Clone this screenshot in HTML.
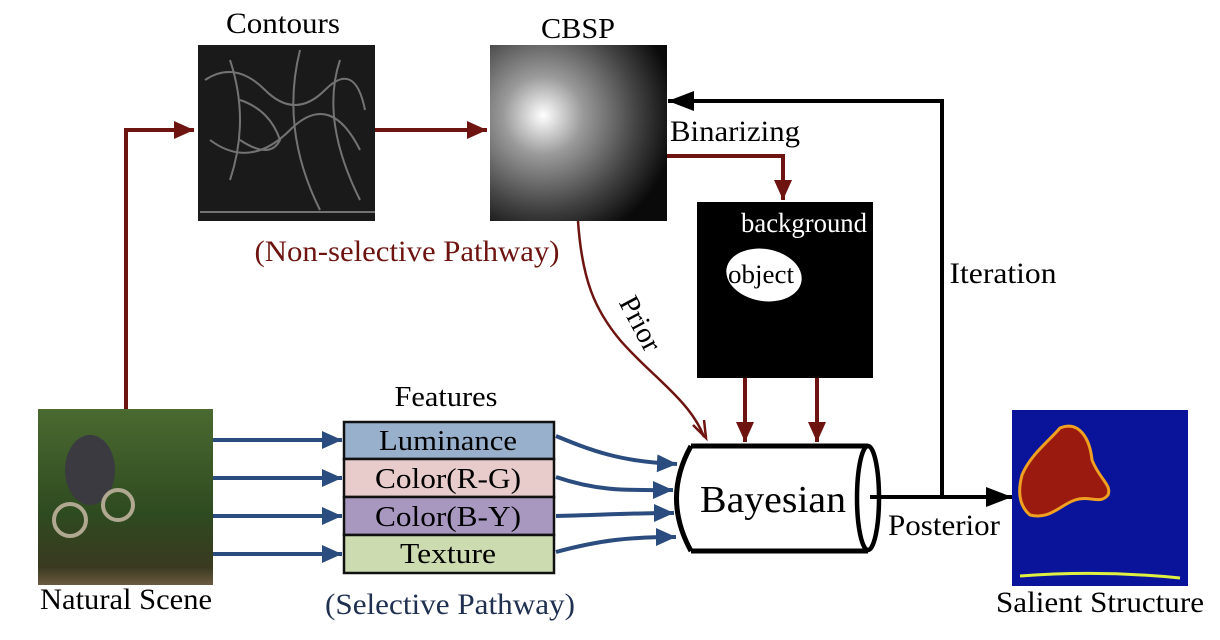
<!DOCTYPE html>
<html><head><meta charset="utf-8"><style>
html,body{margin:0;padding:0;background:#fff;}
svg{display:block;}
text{font-family:"Liberation Serif",serif;}
</style></head><body>
<svg width="1220" height="640" viewBox="0 0 1220 640" xmlns="http://www.w3.org/2000/svg">
<defs>
<marker id="arR" markerWidth="20" markerHeight="18" refX="20" refY="9" orient="auto" markerUnits="userSpaceOnUse"><path d="M0,0 L20,9 L0,18 z" fill="#6e1410"/></marker>
<marker id="arB" markerWidth="20" markerHeight="18" refX="20" refY="9" orient="auto" markerUnits="userSpaceOnUse"><path d="M0,0 L20,9 L0,18 z" fill="#2b4c7e"/></marker>
<marker id="arK" markerWidth="26" markerHeight="20" refX="26" refY="10" orient="auto" markerUnits="userSpaceOnUse"><path d="M0,0 L26,10 L0,20 z" fill="#000"/></marker>
<radialGradient id="cb" cx="0.3" cy="0.4" r="0.75"><stop offset="0" stop-color="#fff"/><stop offset="0.3" stop-color="#9a9a9a"/><stop offset="0.7" stop-color="#444"/><stop offset="1" stop-color="#0a0a0a"/></radialGradient>
<linearGradient id="ns" x1="0" y1="0" x2="0" y2="1"><stop offset="0" stop-color="#4a6a30"/><stop offset="0.6" stop-color="#2e4a20"/><stop offset="0.9" stop-color="#3a3a20"/><stop offset="1" stop-color="#6a5a40"/></linearGradient>
</defs>

<rect x="38" y="409" width="175" height="176" fill="url(#ns)"/>
<ellipse cx="90" cy="470" rx="25" ry="35" fill="#3a3a40"/>
<circle cx="70" cy="520" r="16" fill="none" stroke="#b0a890" stroke-width="4"/>
<circle cx="118" cy="505" r="15" fill="none" stroke="#b0a890" stroke-width="4"/>
<text x="126" y="609" font-size="30" text-anchor="middle" textLength="172" lengthAdjust="spacingAndGlyphs">Natural Scene</text>

<rect x="198" y="45" width="177" height="176" fill="#1a1a1a"/>
<g stroke="#8a8a8a" stroke-width="2" fill="none" opacity="0.8">
<path d="M205,80 q30,-20 60,10 t60,0 t40,20"/><path d="M210,140 q40,30 80,-10 t70,20"/><path d="M230,60 q20,60 0,120"/><path d="M300,50 q-20,80 20,160"/><path d="M200,212 h175"/><path d="M240,100 q30,10 40,40 q-10,20 -40,0"/><path d="M340,60 q-20,60 20,140"/>
</g>
<text x="283" y="33" font-size="30" text-anchor="middle" textLength="114" lengthAdjust="spacingAndGlyphs">Contours</text>

<rect x="490" y="45" width="177" height="176" fill="url(#cb)"/>
<text x="578" y="38" font-size="29" text-anchor="middle" textLength="74" lengthAdjust="spacingAndGlyphs">CBSP</text>

<rect x="697" y="202" width="176" height="176" fill="#000"/>
<ellipse cx="764" cy="275" rx="38" ry="26" fill="#fff" transform="rotate(10 764 275)"/>
<text x="804" y="232" font-size="27" fill="#fff" text-anchor="middle" textLength="126" lengthAdjust="spacingAndGlyphs">background</text>
<text x="761" y="283" font-size="26" fill="#000" text-anchor="middle" textLength="66" lengthAdjust="spacingAndGlyphs">object</text>

<path d="M126,409 V130 H194" stroke="#6e1410" stroke-width="4" fill="none" marker-end="url(#arR)"/>
<path d="M375,130 H487" stroke="#6e1410" stroke-width="4" fill="none" marker-end="url(#arR)"/>
<path d="M667,156 H783 V200" stroke="#6e1410" stroke-width="4" fill="none" marker-end="url(#arR)"/>
<path d="M745,378 V442" stroke="#6e1410" stroke-width="4" fill="none" marker-end="url(#arR)"/>
<path d="M817,378 V442" stroke="#6e1410" stroke-width="4" fill="none" marker-end="url(#arR)"/>
<path d="M578,221 C582,280 595,310 620,340 C650,375 690,400 704,437" stroke="#6e1410" stroke-width="2.5" fill="none"/>
<path d="M693,425 L706,438 L704,420" stroke="#6e1410" stroke-width="2.5" fill="none"/>
<text x="632" y="328" font-size="29" transform="rotate(62 632 328)" text-anchor="middle">Prior</text>
<text x="735" y="141" font-size="30" text-anchor="middle" textLength="130" lengthAdjust="spacingAndGlyphs">Binarizing</text>
<text x="407" y="261" font-size="30" fill="#6e1410" text-anchor="middle" textLength="305" lengthAdjust="spacingAndGlyphs">(Non-selective Pathway)</text>

<text x="446" y="406" font-size="29" text-anchor="middle" textLength="103" lengthAdjust="spacingAndGlyphs">Features</text>
<rect x="344" y="422" width="210" height="37" fill="#98b0cc" stroke="#111" stroke-width="2.5"/>
<rect x="344" y="459" width="210" height="38" fill="#e8cccc" stroke="#111" stroke-width="2.5"/>
<rect x="344" y="497" width="210" height="38" fill="#a898c0" stroke="#111" stroke-width="2.5"/>
<rect x="344" y="535" width="210" height="38" fill="#ccdcb0" stroke="#111" stroke-width="2.5"/>
<g font-size="29" text-anchor="middle">
<text x="448" y="450" textLength="138" lengthAdjust="spacingAndGlyphs">Luminance</text><text x="448" y="488" textLength="146" lengthAdjust="spacingAndGlyphs">Color(R-G)</text><text x="448" y="526" textLength="146" lengthAdjust="spacingAndGlyphs">Color(B-Y)</text><text x="448" y="563" textLength="96" lengthAdjust="spacingAndGlyphs">Texture</text>
</g>
<text x="450" y="614" font-size="30" fill="#1f3050" text-anchor="middle" textLength="250" lengthAdjust="spacingAndGlyphs">(Selective Pathway)</text>

<g stroke="#2b4c7e" stroke-width="4" fill="none">
<path d="M213,440 H342" marker-end="url(#arB)"/>
<path d="M213,478 H342" marker-end="url(#arB)"/>
<path d="M213,516 H342" marker-end="url(#arB)"/>
<path d="M213,554 H342" marker-end="url(#arB)"/>
<path d="M556,436 C590,450 620,462 677,464" marker-end="url(#arB)"/>
<path d="M556,477 C600,492 630,490 673,490" marker-end="url(#arB)"/>
<path d="M556,516 C600,515 630,513 674,513" marker-end="url(#arB)"/>
<path d="M556,552 C600,540 630,537 676,537" marker-end="url(#arB)"/>
</g>

<path d="M691,446 H868 M691,551 H868 M691,446 Q662,498 691,551" stroke="#000" stroke-width="5" fill="none"/>
<ellipse cx="868" cy="498" rx="11" ry="52" fill="none" stroke="#000" stroke-width="4.5"/>
<text x="773" y="512" font-size="38" text-anchor="middle" textLength="146" lengthAdjust="spacingAndGlyphs">Bayesian</text>

<path d="M870,497 H1012" stroke="#000" stroke-width="4" fill="none" marker-end="url(#arK)"/>
<path d="M942,497 V101 H668" stroke="#000" stroke-width="4" fill="none" marker-end="url(#arK)"/>
<text x="1003" y="283" font-size="30" text-anchor="middle" textLength="107" lengthAdjust="spacingAndGlyphs">Iteration</text>
<text x="944" y="535" font-size="30" text-anchor="middle" textLength="112" lengthAdjust="spacingAndGlyphs">Posterior</text>

<rect x="1012" y="410" width="176" height="176" fill="#0a149a"/>
<path d="M1022,475 C1030,455 1050,440 1060,428 C1080,420 1090,440 1092,460 C1100,480 1112,485 1108,495 C1100,505 1090,495 1075,500 C1060,505 1050,520 1030,515 C1018,505 1018,490 1022,475z" fill="#9a1a10" stroke="#f0a020" stroke-width="3"/>
<path d="M1020,576 Q1100,570 1180,578" stroke="#e0f040" stroke-width="3" fill="none"/>
<text x="1100" y="612" font-size="30" text-anchor="middle" textLength="208" lengthAdjust="spacingAndGlyphs">Salient Structure</text>
</svg>
</body></html>
